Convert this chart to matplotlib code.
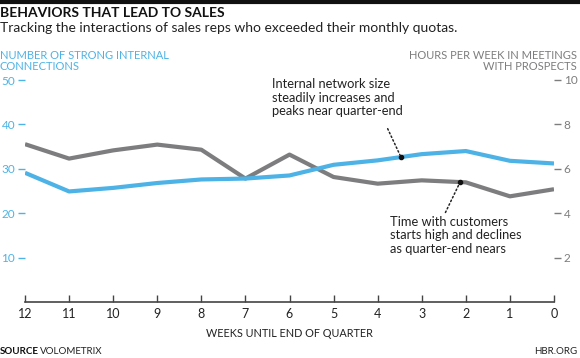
import matplotlib.pyplot as plt

# Datos
semanas = [12, 11, 10, 9, 8, 7, 6, 5, 4, 3, 2, 1, 0]
conexiones = [29.1, 24.9, 25.7, 26.8, 27.6, 27.8, 28.5, 30.9, 31.9, 33.3, 34.0, 31.8, 31.2]
horas = [7.11, 6.46, 6.83, 7.09, 6.86, 5.56, 6.64, 5.63, 5.33, 5.48, 5.39, 4.76, 5.08]
ticks_izq = [10, 20, 30, 40, 50]
ticks_der = [2, 4, 6, 8, 10]

azul = '#4db3e6'
gris = '#7d7d7f'
fuente = 'Lato'

plt.rcParams['font.family'] = [fuente, 'DejaVu Sans']

fig = plt.figure(figsize=(5.8, 3.58), dpi=100)
W, H = 580, 358
ax = fig.add_axes([25 / W, 1 - 302 / H, (554 - 25) / W, (302 - 80) / H])
ax2 = ax.twinx()

ax.plot(semanas, conexiones, color=azul, lw=3, solid_capstyle='butt', zorder=3)
ax2.plot(semanas, horas, color=gris, lw=3, solid_capstyle='butt', zorder=2)

ax.set_xlim(12, 0)
ax.set_ylim(0, 50)
ax2.set_ylim(0, 10)
ax.set_zorder(ax2.get_zorder() + 1)
ax.patch.set_visible(False)

for a in (ax, ax2):
    for s in ['top', 'left', 'right']:
        a.spines[s].set_visible(False)
ax2.spines['bottom'].set_visible(False)
ax.spines['bottom'].set_color('#444444')
ax.spines['bottom'].set_linewidth(1.2)

ax.set_xticks(semanas)
ax.set_xticklabels([str(s) for s in semanas])
ax.tick_params(axis='x', direction='in', length=5, width=1, color='#444444',
               labelsize=9, labelcolor='#222222', pad=4)
ax.set_yticks(ticks_izq)
ax.tick_params(axis='y', length=5, width=1, color=azul, labelcolor=azul, labelsize=8.5, pad=2)
ax2.set_yticks(ticks_der)
ax2.tick_params(axis='y', length=5, width=1, color=gris, labelcolor=gris, labelsize=8.5, pad=2)

ax.set_xlabel('WEEKS UNTIL END OF QUARTER', fontsize=7.8, color='#222222', labelpad=6)

# Títulos
fig.add_artist(plt.Line2D([0, 1], [1 - 1.5 / H, 1 - 1.5 / H], color='#111111', lw=3))
fig.text(0 / W, 1 - 13 / H, 'BEHAVIORS THAT LEAD TO SALES', fontsize=10, fontweight='bold',
         color='#111111', va='center', ha='left')
fig.text(0 / W, 1 - 28 / H, 'Tracking the interactions of sales reps who exceeded their monthly quotas.',
         fontsize=10, color='#222222', va='center', ha='left')
fig.text(0 / W, 1 - 61 / H, 'NUMBER OF STRONG INTERNAL\nCONNECTIONS', fontsize=8, color=azul,
         va='center', ha='left', linespacing=1.0)
fig.text(577 / W, 1 - 61 / H, 'HOURS PER WEEK IN MEETINGS\nWITH PROSPECTS', fontsize=8, color=gris,
         va='center', ha='right', linespacing=1.0, multialignment='right')

# Anotaciones
ax.text(6.39, 50.4, 'Internal network size\nsteadily increases and\npeaks near quarter-end',
        fontsize=9.3, color='#222222', va='top', ha='left', linespacing=1.15)
ax.annotate('', xy=(3.47, 32.6), xytext=(3.8, 39.6),
            arrowprops=dict(arrowstyle='-', ls=':', color='#222222', lw=1.1))
ax.plot([3.47], [32.6], 'o', color='#111111', ms=3, zorder=5)

ax.text(3.71, 19.4, 'Time with customers\nstarts high and declines\nas quarter-end nears',
        fontsize=9.3, color='#222222', va='top', ha='left', linespacing=1.15)
ax.annotate('', xy=(2.13, 27.0), xytext=(2.49, 19.6),
            arrowprops=dict(arrowstyle='-', ls=':', color='#222222', lw=1.1))
ax.plot([2.13], [27.0], 'o', color='#111111', ms=3, zorder=5)

# Pie
fig.text(0 / W, 1 - 352 / H, 'SOURCE', fontsize=7, fontweight='bold', color='#111111', va='center')
fig.text(40 / W, 1 - 352 / H, 'VOLOMETRIX', fontsize=7, color='#222222', va='center')
fig.text(577 / W, 1 - 352 / H, 'HBR.ORG', fontsize=7, color='#222222', va='center', ha='right')

fig.savefig('out.png', dpi=100)
